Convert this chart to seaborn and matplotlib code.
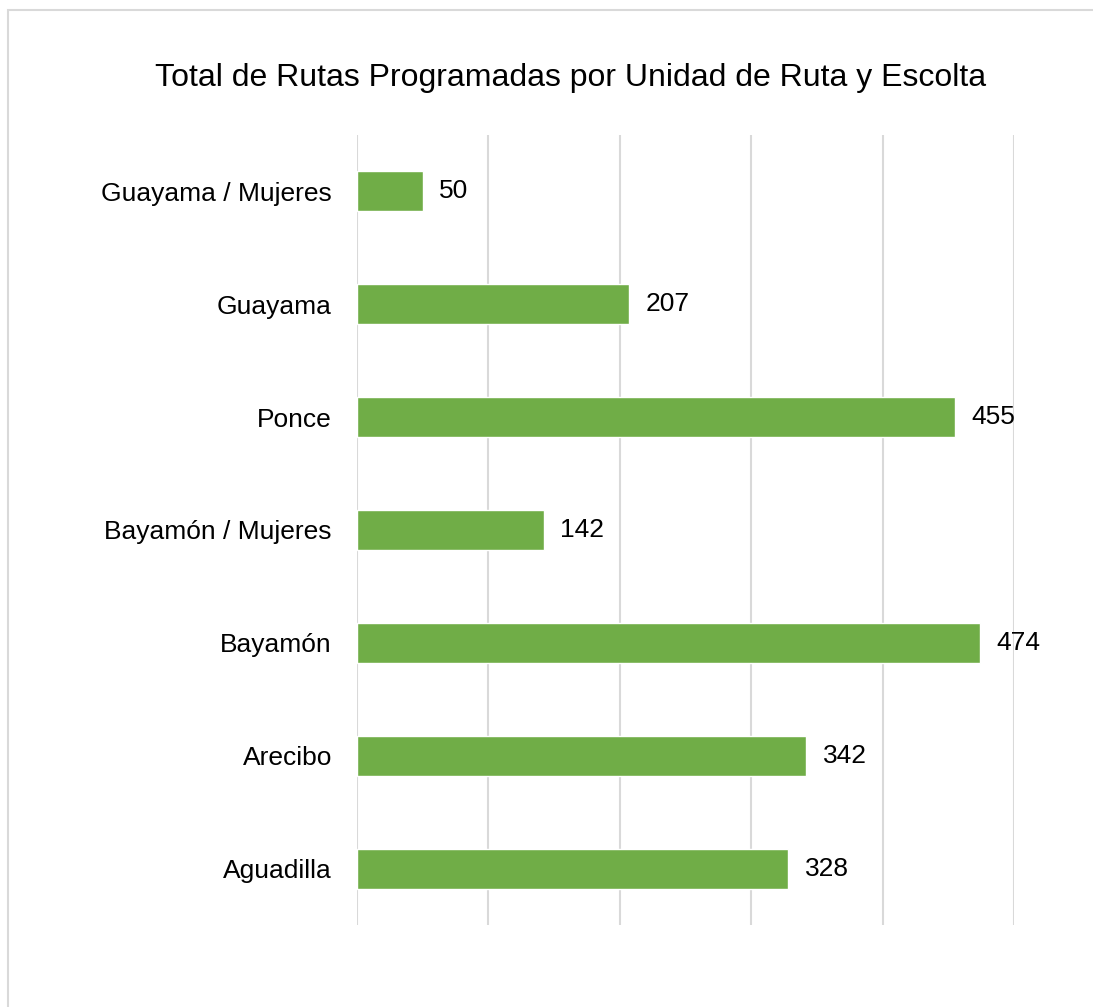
#!/usr/bin/env python3

import pandas as pd
import matplotlib.pyplot as plt
import seaborn as sns
from matplotlib.patches import Rectangle

sns.set_style("white")
plt.rcParams['font.family'] = ['Liberation Sans', 'DejaVu Sans']
plt.rcParams['text.color'] = 'black'
plt.rcParams['ytick.color'] = 'black'

unidades = ["Guayama / Mujeres", "Guayama", "Ponce", "Bayamón / Mujeres",
            "Bayamón", "Arecibo", "Aguadilla"]
rutas = [50, 207, 455, 142, 474, 342, 328]

df = pd.DataFrame({"Unidad": unidades, "Rutas": rutas})

fig = plt.figure(figsize=(10.93, 10.07), dpi=100)
ax = fig.add_axes([357 / 1093, 1 - 925 / 1007, (1014 - 357) / 1093, (925 - 135) / 1007])

sns.barplot(data=df, x="Rutas", y="Unidad", orient="h", color="#70AD47",
            width=0.355, saturation=1, ax=ax, zorder=3)

ax.bar_label(ax.containers[0], labels=[str(v) for v in rutas], padding=12,
             fontsize=19, color="black")

ax.set_xlim(0, 500)
ax.set_ylim(6.5, -0.5)
ax.set_xticks(range(0, 501, 100))
ax.set_xticklabels([])
ax.grid(axis="x", color="#d9d9d9", linewidth=1.5, zorder=0)
ax.grid(axis="y", visible=False)
for s in ax.spines.values():
    s.set_visible(False)
ax.tick_params(axis="both", length=0)
ax.tick_params(axis="y", labelsize=19, pad=18, labelcolor="black")
ax.set_xlabel("")
ax.set_ylabel("")

fig.text(571 / 1093, 1 - 78 / 1007, "Total de Rutas Programadas por Unidad de Ruta y Escolta",
         ha="center", va="center", fontsize=23, color="black")

# chart border
fig.patches.append(Rectangle((8 / 1093, -0.01), 1.0, 1 - 10 / 1007 + 0.01,
                             transform=fig.transFigure, fill=False,
                             edgecolor="#d9d9d9", linewidth=1.5))

fig.savefig("out.png", dpi=100)
